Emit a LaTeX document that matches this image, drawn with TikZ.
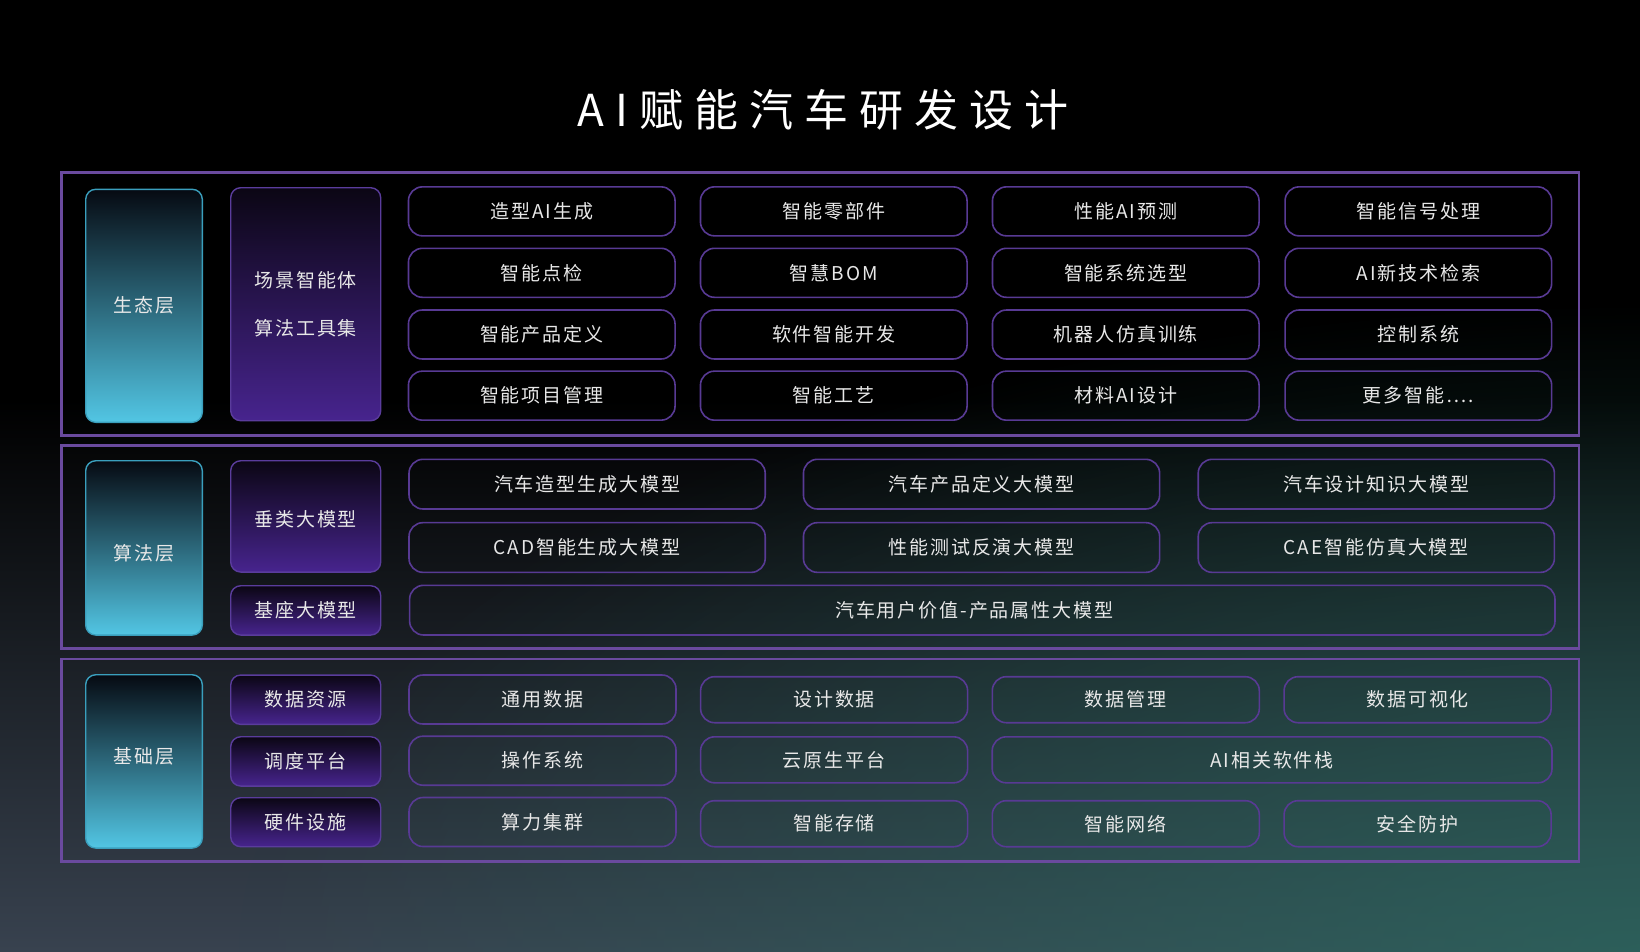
\documentclass[tikz,border=0pt]{standalone}
\usepackage{fontspec}
\setmainfont{Noto Sans CJK SC}
\newfontfamily\bodyfont{Noto Sans CJK SC}[LetterSpace=10]
\newfontfamily\titlefont{Noto Sans CJK SC}[LetterSpace=25]
\usetikzlibrary{fadings}
\definecolor{bgbot}{HTML}{38424F}
\definecolor{tealglowc}{HTML}{286B5F}
\definecolor{layerc}{HTML}{6A4A9E}
\definecolor{gridc}{HTML}{583A94}
\definecolor{cyanbd}{HTML}{3A9FBD}
\definecolor{cyantop}{HTML}{060A12}
\definecolor{cyanbot}{HTML}{52C6E4}
\definecolor{purpbd}{HTML}{5A3C9C}
\definecolor{purptop}{HTML}{0B0614}
\definecolor{purpbot}{HTML}{47248E}
\definecolor{txt}{HTML}{E8E8E8}
\pgfdeclareverticalshading{bgv}{100bp}{color(0bp)=(bgbot); color(25bp)=(bgbot); color(54bp)=(black); color(100bp)=(black)}
\tikzfading[name=tealglow, inner color=transparent!30, outer color=transparent!100]
\tikzset{
  bodytext/.style={text=txt, font=\bodyfont\fontsize{19}{22}\selectfont},
  layerbox/.style={draw=layerc, line width=2.5pt, inner sep=0pt},
  gbox/.style={bodytext, draw=gridc, line width=1.6pt, rounded corners=14pt, inner sep=0pt},
  cyanbox/.style={bodytext, draw=cyanbd, line width=1.4pt, rounded corners=10pt, top color=cyantop, bottom color=cyanbot, inner sep=0pt},
  purpbox/.style={bodytext, draw=purpbd, line width=1.4pt, rounded corners=10pt, top color=purptop, bottom color=purpbot, inner sep=0pt},
  c1/.style={gbox, minimum width=266.6pt, minimum height=49pt},
  c2/.style={gbox, minimum width=356.2pt, minimum height=49.7pt},
  c3/.style={gbox, minimum width=267pt, minimum height=46pt},
}
\begin{document}
\begin{tikzpicture}[x=1pt,y=-1pt]
\useasboundingbox (0,0) rectangle (1640,951);
\clip (0,0) rectangle (1640,951);
% background
\shade[shading=bgv] (0,0) rectangle (1640,951);
\fill[tealglowc, path fading=tealglow] (240,301) rectangle (3040,1601);

% title
\node[text=white, font=\titlefont\fontsize{44}{50}\selectfont] (title) at (823,110) {AI赋能汽车研发设计};

% layer frames
\node[layerbox, minimum width=1517.3pt, minimum height=262.6pt] (L1) at (820.35,304) {};
\node[layerbox, minimum width=1517.3pt, minimum height=203pt] (L2) at (820.35,547.2) {};
\node[layerbox, minimum width=1517.3pt, minimum height=202.7pt] (L3) at (820.35,760.35) {};

% left cyan labels
\node[cyanbox, minimum width=116.6pt, minimum height=233pt] (eco) at (144,305.8) {生态层};
\node[cyanbox, minimum width=116.6pt, minimum height=174.3pt, text height=26pt] (alg) at (144,547.9) {算法层};
\node[cyanbox, minimum width=116.6pt, minimum height=173.3pt, text depth=12pt] (base) at (144,761.4) {基础层};

% purple labels
\node[purpbox, minimum width=150pt, minimum height=233pt, align=center, font=\bodyfont\fontsize{19}{47.6}\selectfont] (scene) at (305.7,304.2) {场景智能体\\算法工具集};
\node[purpbox, minimum width=150pt, minimum height=111.3pt, text height=21pt] (vert) at (305.7,516.4) {垂类大模型};
\node[purpbox, minimum width=150pt, minimum height=49.3pt] (found) at (305.7,610.4) {基座大模型};
\node[purpbox, minimum width=150pt, minimum height=49.3pt] (data) at (305.7,699.7) {数据资源};
\node[purpbox, minimum width=150pt, minimum height=49.3pt] (sched) at (305.7,761.4) {调度平台};
\node[purpbox, minimum width=150pt, minimum height=49pt] (hw) at (305.7,822.2) {硬件设施};

% layer 1 grid
\node[c1] (e11) at (541.75,211.35) {造型AI生成};
\node[c1] (e12) at (833.75,211.35) {智能零部件};
\node[c1] (e13) at (1125.75,211.35) {性能AI预测};
\node[c1] (e14) at (1418.35,211.35) {智能信号处理};
\node[c1] (e21) at (541.75,272.8) {智能点检};
\node[c1] (e22) at (833.75,272.8) {智慧BOM};
\node[c1] (e23) at (1125.75,272.8) {智能系统选型};
\node[c1] (e24) at (1418.35,272.8) {AI新技术检索};
\node[c1] (e31) at (541.75,334.5) {智能产品定义};
\node[c1] (e32) at (833.75,334.5) {软件智能开发};
\node[c1] (e33) at (1125.75,334.5) {机器人仿真训练};
\node[c1] (e34) at (1418.35,334.5) {控制系统};
\node[c1] (e41) at (541.75,395.65) {智能项目管理};
\node[c1] (e42) at (833.75,395.65) {智能工艺};
\node[c1] (e43) at (1125.75,395.65) {材料AI设计};
\node[c1] (e44) at (1418.35,395.65) {更多智能….};

% layer 2 grid
\node[c2] (a11) at (587.1,484.15) {汽车造型生成大模型};
\node[c2] (a12) at (981.55,484.15) {汽车产品定义大模型};
\node[c2] (a13) at (1376.3,484.15) {汽车设计知识大模型};
\node[c2] (a21) at (587.1,547.5) {CAD智能生成大模型};
\node[c2] (a22) at (981.55,547.5) {性能测试反演大模型};
\node[c2] (a23) at (1376.3,547.5) {CAE智能仿真大模型};
\node[gbox, minimum width=1145.4pt, minimum height=49.7pt] (a3) at (982.3,610.15) {汽车用户价值-产品属性大模型\kern16pt};

% layer 3 grid
\node[c3, minimum height=49pt] (b11) at (542.5,699.5) {通用数据};
\node[c3] (b12) at (834.1,699.7) {设计数据};
\node[c3] (b13) at (1125.8,699.7) {数据管理};
\node[c3] (b14) at (1417.6,699.7) {数据可视化};
\node[c3, minimum height=49pt] (b21) at (542.5,760.7) {操作系统};
\node[c3] (b22) at (834.1,759.8) {云原生平台};
\node[gbox, minimum width=559.8pt, minimum height=46pt] (b23) at (1272.1,759.8) {AI相关软件栈};
\node[c3, minimum height=49pt] (b31) at (542.5,822) {算力集群};
\node[c3] (b32) at (834.1,823.7) {智能存储};
\node[c3] (b33) at (1125.8,823.7) {智能网络};
\node[c3] (b34) at (1417.6,823.7) {安全防护};
\end{tikzpicture}
\end{document}
